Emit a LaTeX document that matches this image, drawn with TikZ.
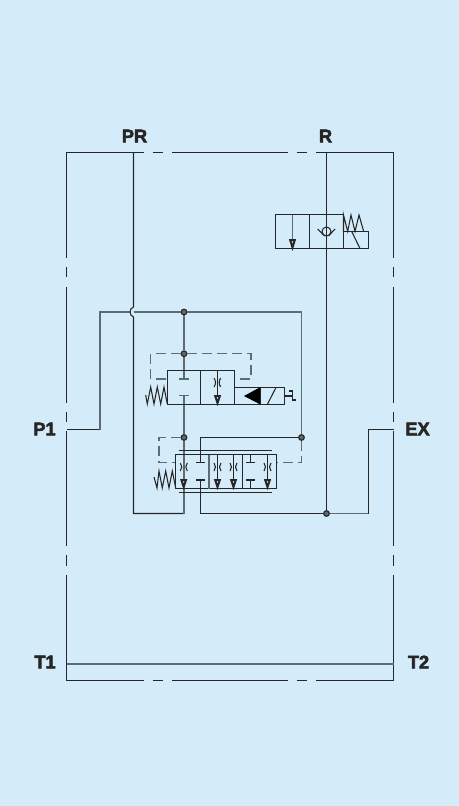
\documentclass[tikz,border=0pt]{standalone}
\usepackage{fontspec}
\usepackage{xcolor}
\setmainfont[BoldFeatures={FakeBold=3}]{Liberation Sans}
\definecolor{panel}{HTML}{D4ECFA}
\definecolor{ink}{HTML}{262626}
\definecolor{steel}{HTML}{5F6B72}
\tikzset{
	port/.style={font=\fontsize{13.7}{13.7}\selectfont\bfseries,text=ink,inner sep=0pt},
	thinline/.style={draw=ink,line width=0.8pt},
	greyline/.style={draw=steel,line width=1.1pt},
	pilot/.style={draw=steel,line width=1pt,dash pattern=on 7.5pt off 3.75pt},
	junct/.style={circle,draw=ink,fill=steel,line width=0.9pt,inner sep=0pt,minimum size=4.2pt},
	tip/.style={draw=ink,fill=panel,line width=1.5pt,line join=miter}
}
\begin{document}
\begin{tikzpicture}[x=0.75pt,y=-0.75pt]
	\fill[panel] (0,0) rectangle (459,806);
	\useasboundingbox (0,0) rectangle (459,806);

	\node[port] (pr) at (134.5,136) {PR};
	\node[port] (r) at (325.5,136) {R};
	\node[port] (p1) at (44.5,429) {P1};
	\node[port] (ex) at (417.5,429) {EX};
	\node[port] (t1) at (45,662) {T1};
	\node[port] (t2) at (418.5,662) {T2};

	\draw[thinline] (144,152.5) -- (66.5,152.5) -- (66.5,258);
	\draw[thinline] (153,152.5) -- (163,152.5);
	\draw[thinline] (172,152.5) -- (288,152.5);
	\draw[thinline] (297,152.5) -- (307,152.5);
	\draw[thinline] (316,152.5) -- (393.5,152.5) -- (393.5,258);
	\draw[thinline] (144,680.5) -- (66.5,680.5) -- (66.5,575);
	\draw[thinline] (153,680.5) -- (163,680.5);
	\draw[thinline] (172,680.5) -- (288,680.5);
	\draw[thinline] (297,680.5) -- (307,680.5);
	\draw[thinline] (316,680.5) -- (393.5,680.5) -- (393.5,575);
	\draw[thinline] (66.5,267) -- (66.5,277);
	\draw[thinline] (66.5,287) -- (66.5,403);
	\draw[thinline] (66.5,412) -- (66.5,422);
	\draw[thinline] (66.5,431) -- (66.5,546);
	\draw[thinline] (66.5,555) -- (66.5,566);
	\draw[thinline] (393.5,267) -- (393.5,277);
	\draw[thinline] (393.5,287) -- (393.5,403);
	\draw[thinline] (393.5,412) -- (393.5,422);
	\draw[thinline] (393.5,431) -- (393.5,546);
	\draw[thinline] (393.5,555) -- (393.5,566);
	\draw[greyline] (66.5,664) -- (393.5,664);

	\coordinate (p1in) at (66.5,429.5);
	\coordinate (exout) at (393.5,429.5);
	\coordinate (prin) at (133.5,152.5);
	\coordinate (rin) at (326.5,152.5);
	\coordinate (bumpin) at (129.5,312);
	\coordinate (bumpout) at (133.5,312);
	\node[junct] (ja) at (184,312) {};
	\node[junct] (jb) at (184,353.7) {};
	\node[junct] (jc) at (184,437.5) {};
	\node[junct] (jd) at (301.5,437.5) {};
	\node[junct] (je) at (326.5,513.5) {};

	\draw[thinline] (p1in) -- (100,429.5);
	\draw[greyline] (100,429.5) -- (100,312) -- (bumpin);
	\draw[greyline] (bumpout) -- (ja);
	\draw[greyline] (ja) -- (301.5,312) -- (jd);
	\draw[thinline] (prin) -- (133.5,307) .. controls (129,308) and (129,316) .. (133.5,317) -- (133.5,513.5) -- (184,513.5);
	\draw[thinline] (rin) -- (je);
	\draw[greyline] (je) -- (368.5,513.5);
	\draw[thinline] (368.5,513.5) -- (368.5,429.5) -- (exout);
	\draw[greyline] (ja) -- (jb) -- (184,370.7);
	\draw[greyline] (184,404.3) -- (jc);
	\draw[greyline] (jc) -- (184,454.5);
	\draw[greyline] (184,488.5) -- (184,513.5);
	\draw[thinline] (jd) -- (200.5,437.5) -- (200.5,462.7);
	\draw[thinline] (200.5,480) -- (200.5,513.5) -- (je);

	\draw[pilot] (jb) -- (150.7,353.7) -- (150.7,379) -- (167.3,379);
	\draw[pilot] (jb) -- (251,353.7) -- (251,379) -- (234.3,379);
	\draw[pilot] (jc) -- (159,437.5) -- (159,462.7) -- (175.7,462.7);
	\draw[pilot] (jd) -- (301.5,462.7) -- (276,462.7);

	\draw[thinline] (167.5,370.5) rectangle (234.5,404.5);
	\draw[thinline] (200.5,370.5) -- (200.5,404.5);
	\draw[thinline] (234.5,387.5) rectangle (284.5,404.5);
	\draw[thinline] (260,387.5) -- (260,404.5);
	\fill[black] (244,396) -- (260,387.3) -- (260,404.3) -- cycle;
	\draw[thinline] (267.3,404.5) -- (276,387.5);
	\draw[thinline] (284.5,396) -- (292.5,396);
	\draw[thinline] (289.3,391) -- (292.5,391) -- (292.5,400) -- (296,400);
	\draw[thinline] (167.3,404) -- (164,387) -- (160.7,404) -- (157.3,387) -- (154,404) -- (150.7,387) -- (147.3,404) -- (145.7,395);
	\draw[greyline] (184,370.7) -- (184,379);
	\draw[greyline] (179.3,379) -- (188.7,379);
	\draw[greyline] (179.3,395.7) -- (188.7,395.7);
	\draw[greyline] (184,395.7) -- (184,404.3);
	\draw[thinline] (217.5,370.5) -- (217.5,396);
	\draw[thinline] (214,378) .. controls (216,381) and (216,384) .. (214,387);
	\draw[thinline] (220.7,378) .. controls (218.7,381) and (218.7,384) .. (220.7,387);
	\draw[tip] (215.2,396) -- (219.8,396) -- (217.5,403) -- cycle;

	\draw[thinline] (175.5,454.5) rectangle (276.5,488.5);
	\draw[greyline] (209,454.5) -- (209,488.5);
	\draw[thinline] (242.5,454.5) -- (242.5,488.5);
	\draw[thinline] (179.3,450.5) -- (272,450.5);
	\draw[thinline] (179.3,492.5) -- (272,492.5);
	\draw[thinline] (175.7,488) -- (172.3,471) -- (169,488) -- (165.7,471) -- (162.3,488) -- (159,471) -- (157,488) -- (154,477);

	\draw[greyline] (184,454.5) -- (184,479);
	\draw[thinline] (180.3,463) .. controls (182.3,465.5) and (182.3,468.5) .. (180.3,471);
	\draw[thinline] (187.3,463) .. controls (185.3,465.5) and (185.3,468.5) .. (187.3,471);
	\draw[tip] (181.4,480) -- (186,480) -- (183.7,487) -- cycle;
	\draw[thinline] (196,462.7) -- (205,462.7);
	\draw[thinline] (196,480) -- (205,480);

	\draw[thinline] (217.5,454.5) -- (217.5,479);
	\draw[thinline] (214,463) .. controls (216,465.5) and (216,468.5) .. (214,471);
	\draw[thinline] (221,463) .. controls (219,465.5) and (219,468.5) .. (221,471);
	\draw[tip] (215.2,480) -- (219.8,480) -- (217.5,487) -- cycle;

	\draw[thinline] (233.5,454.5) -- (233.5,479);
	\draw[thinline] (230,463) .. controls (232,465.5) and (232,468.5) .. (230,471);
	\draw[thinline] (237,463) .. controls (235,465.5) and (235,468.5) .. (237,471);
	\draw[tip] (231.2,480) -- (235.8,480) -- (233.5,487) -- cycle;

	\draw[thinline] (250.5,454.5) -- (250.5,462.7);
	\draw[thinline] (246,462.7) -- (255.4,462.7);
	\draw[thinline] (246,480) -- (255.4,480);
	\draw[thinline] (250.5,480) -- (250.5,488.5);

	\draw[thinline] (267.5,454.5) -- (267.5,479);
	\draw[thinline] (264,463) .. controls (266,465.5) and (266,468.5) .. (264,471);
	\draw[thinline] (271,463) .. controls (269,465.5) and (269,468.5) .. (271,471);
	\draw[tip] (265.2,480) -- (269.8,480) -- (267.5,487) -- cycle;

	\draw[thinline] (275.5,214.5) rectangle (343.5,248.5);
	\draw[thinline] (309.5,214.5) -- (309.5,248.5);
	\draw[greyline] (292.5,214.5) -- (292.5,240);
	\draw[tip] (290.2,240) -- (294.8,240) -- (292.5,247.5) -- cycle;
	\draw[thinline] (326.5,231.5) circle (4.5);
	\draw[thinline] (317.7,229) -- (324.5,236);
	\draw[thinline] (335,229) -- (328.5,236);
	\draw[thinline] (343.5,248.5) -- (368.5,248.5) -- (368.5,231.5) -- (343.5,231.5);
	\draw[thinline] (343.5,231.5) -- (343.5,215) -- (347.7,231.5) -- (351,215) -- (355,231.5) -- (359,215) -- (363.7,231.5);
	\draw[thinline] (351.7,231.5) -- (360,248.5);
\end{tikzpicture}
\end{document}
